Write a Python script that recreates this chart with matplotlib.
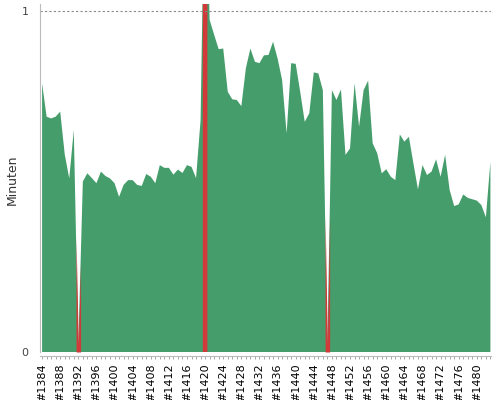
import numpy as np
import matplotlib
matplotlib.use("Agg")
import matplotlib.pyplot as plt

# build numbers shown on the trend chart
builds = np.arange(1384, 1484)

# build duration in minutes
durations = [
    0.788, 0.690, 0.685, 0.690, 0.705, 0.580, 0.509, 0.651, 0.020, 0.500,  # 1384-1393
    0.524, 0.510, 0.495, 0.529, 0.516, 0.509, 0.495, 0.455, 0.490, 0.504,  # 1394-1403
    0.504, 0.490, 0.487, 0.522, 0.514, 0.495, 0.548, 0.540, 0.540, 0.520,  # 1404-1413
    0.535, 0.525, 0.548, 0.543, 0.510, 0.680, 1.500, 0.974, 0.930, 0.888,  # 1414-1423
    0.890, 0.763, 0.741, 0.739, 0.721, 0.832, 0.890, 0.851, 0.847, 0.870,  # 1424-1433
    0.871, 0.910, 0.861, 0.798, 0.641, 0.847, 0.845, 0.763, 0.675, 0.700,  # 1434-1443
    0.820, 0.817, 0.768, 0.020, 0.768, 0.739, 0.770, 0.578, 0.597, 0.788,  # 1444-1453
    0.661, 0.768, 0.796, 0.612, 0.583, 0.524, 0.536, 0.514, 0.504, 0.638,  # 1454-1463
    0.617, 0.631, 0.553, 0.477, 0.548, 0.519, 0.529, 0.565, 0.514, 0.578,  # 1464-1473
    0.475, 0.428, 0.433, 0.462, 0.452, 0.448, 0.444, 0.431, 0.395, 0.558,  # 1474-1483
]

# builds that failed (drawn red)
failed = [1392, 1420, 1447]

tick_builds = builds[::4]
tick_labels = ["#%d" % b for b in tick_builds]

green = "#459d6b"
red = "#d23a3a"

fig = plt.figure(figsize=(5, 4), dpi=100)
ax = fig.add_axes([0.079, 0.12, 0.903, 0.87])

dur = np.array(durations)
ax.fill_between(builds, 0, dur, color=green, linewidth=0)

# red strip for each failed build, half a build on each side
for b in failed:
    i = b - builds[0]
    v = dur[i]
    left = (dur[i - 1] + v) / 2
    right = (dur[i + 1] + v) / 2
    ax.fill_between([b - 0.5, b, b + 0.5], 0, [left, v, right],
                    color=red, linewidth=0)

ax.axhline(1, color="#888888", linewidth=0.8, linestyle=(0, (2, 2)))

ax.set_xlim(1383.43, 1483.13)
ax.set_ylim(0, 1.0205)

ax.set_yticks([0, 1])
ax.set_yticklabels(["0", "1"])
ax.tick_params(axis="y", length=0, pad=8, labelsize=8, labelcolor="#444444")

ax.set_xticks(tick_builds)
ax.set_xticks(builds, minor=True)
ax.set_xticklabels(tick_labels)
ax.tick_params(axis="x", which="both", length=2, width=0.6, color="#999999",
               pad=3, labelrotation=90, labelsize=8)

for s in ["top", "right"]:
    ax.spines[s].set_visible(False)
ax.spines["left"].set_color("#bbbbbb")
ax.spines["bottom"].set_color("#bbbbbb")
ax.spines["bottom"].set_position(("outward", 3))

fig.text(12 / 500, 1 - 180 / 400, "Minuten", rotation=90, ha="center",
         va="center", fontsize=9, color="#333333")

fig.savefig("out.png")
